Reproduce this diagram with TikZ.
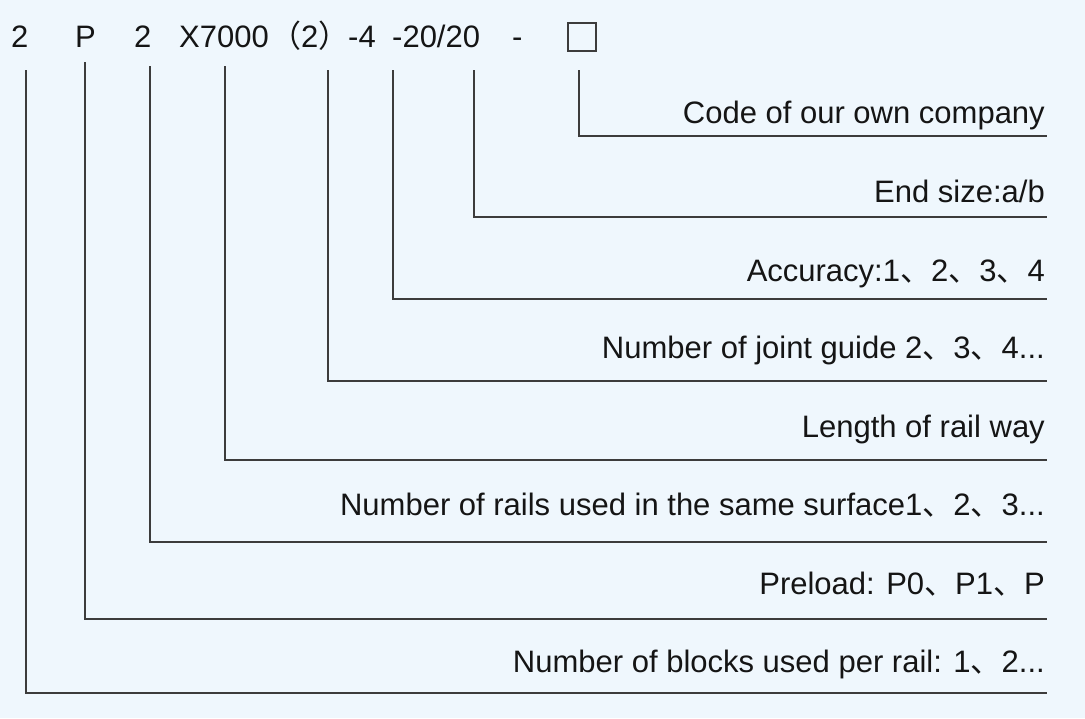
\documentclass[tikz,border=0pt]{standalone}
\usepackage{fontspec}
\setmainfont{Liberation Sans}
\newfontfamily\cjk{Noto Sans CJK SC}
\usetikzlibrary{positioning}
\definecolor{PanelBlue}{HTML}{EFF7FD}
\definecolor{LineGray}{HTML}{3C3C3C}
\definecolor{TextBlack}{HTML}{151515}
\newcommand{\dun}{{\cjk 、}}

\begin{document}
\begin{tikzpicture}[x=1pt, y=-1pt,
      code/.style={anchor=base west, inner sep=0pt, text=TextBlack, font=\fontsize{31}{31}\selectfont},
      desc/.style={anchor=base east, inner sep=0pt, text=TextBlack, font=\fontsize{31}{31}\selectfont},
      leader/.style={LineGray, line width=1.3pt}]
   \fill[PanelBlue] (0,0) rectangle (1085,718);
   \useasboundingbox (0,0) rectangle (1085,718);
   % model code
   \node[code] (blocks) at (11,47) {2};
   \node[code] (preload) at (75,47) {P};
   \node[code] (rails) at (134,47) {2};
   \node[code] (length) at (179,47) {X7000};
   \node[code] (joint) at (270,47) {{\cjk（}2{\cjk）}};
   \node[code] (accuracy) at (348,47) {-4};
   \node[code] (endsize) at (392,47) {-20/20};
   \node[code] (dash) at (512,47) {-};
   \node[draw=LineGray, line width=1.6pt, minimum size=28pt, inner sep=0pt] (own) at (582,37) {};
   % leader corners
   \coordinate (own-top) at (579,70);      \coordinate (own-end) at (1047,136);
   \coordinate (endsize-top) at (474,70);  \coordinate (endsize-end) at (1047,217);
   \coordinate (accuracy-top) at (393,70); \coordinate (accuracy-end) at (1047,299);
   \coordinate (joint-top) at (328,70);    \coordinate (joint-end) at (1047,381);
   \coordinate (length-top) at (225,66);   \coordinate (length-end) at (1047,460);
   \coordinate (rails-top) at (150,66);    \coordinate (rails-end) at (1047,542);
   \coordinate (preload-top) at (85,62);   \coordinate (preload-end) at (1047,619);
   \coordinate (blocks-top) at (26,70);    \coordinate (blocks-end) at (1047,693);
   \draw[leader] (own-top) |- (own-end);
   \draw[leader] (endsize-top) |- (endsize-end);
   \draw[leader] (accuracy-top) |- (accuracy-end);
   \draw[leader] (joint-top) |- (joint-end);
   \draw[leader] (length-top) |- (length-end);
   \draw[leader] (rails-top) |- (rails-end);
   \draw[leader] (preload-top) |- (preload-end);
   \draw[leader] (blocks-top) |- (blocks-end);
   % meanings
   \node[desc] (own-txt) at (1045,123) {Code of our own company};
   \node[desc] (endsize-txt) at (1045,202) {End size:a/b};
   \node[desc] (accuracy-txt) at (1045,281) {Accuracy:1\dun 2\dun 3\dun 4};
   \node[desc] (joint-txt) at (1045,358) {Number of joint guide 2\dun 3\dun 4...};
   \node[desc] (length-txt) at (1045,437) {Length of rail way};
   \node[desc] (rails-txt) at (1045,515) {Number of rails used in the same surface1\dun 2\dun 3...};
   \node[desc] (preload-txt) at (1045,594) {Preload: P0\dun P1\dun P};
   \node[desc] (blocks-txt) at (1045,672) {Number of blocks used per rail: 1\dun 2...};
\end{tikzpicture}
\end{document}
